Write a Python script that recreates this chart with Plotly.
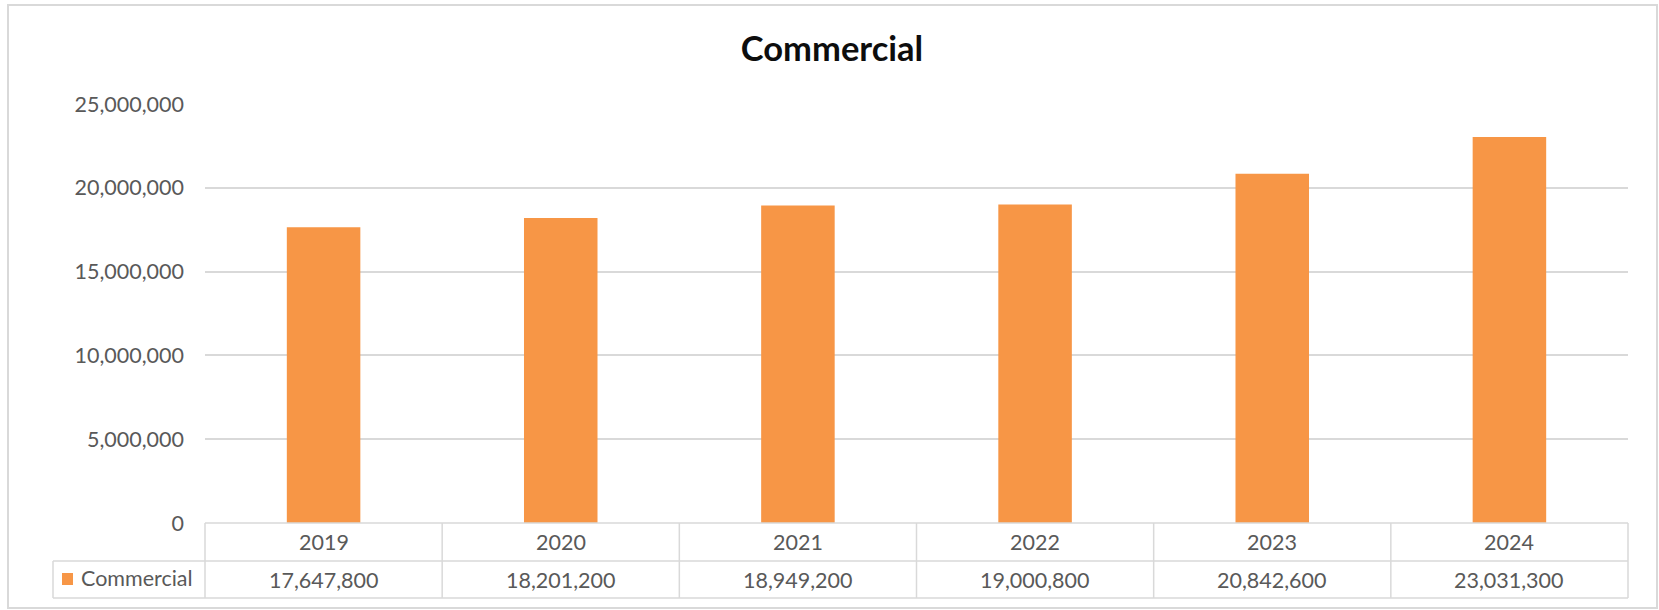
import plotly.graph_objects as go

years = ["2019", "2020", "2021", "2022", "2023", "2024"]
commercial = [17647800, 18201200, 18949200, 19000800, 20842600, 23031300]
series_name = "Commercial"
title_text = "Commercial"
y_ticks = [0, 5000000, 10000000, 15000000, 20000000, 25000000]

W, H = 1659, 610
L, R, T, B = 205, 1659 - 1628, 104, 610 - 523
PW, PH = W - L - R, H - T - B

def px_x(p):
    return (p - L) / PW

def px_y(p):
    return (H - B - p) / PH

GRID = "#d9d9d9"
TXT = "#595959"
FONT = "Lato"
BAR = "#F79646"
FS = 21.5

fig = go.Figure()
fig.add_trace(go.Bar(x=years, y=commercial, name=series_name, marker=dict(color=BAR, line=dict(width=0)),
                     showlegend=False))

shapes = []
row1 = px_y(561)
row2 = px_y(598)
shapes.append(dict(type="line", xref="paper", yref="paper", x0=px_x(53), x1=1, y0=row1, y1=row1,
                   line=dict(color=GRID, width=1.5)))
shapes.append(dict(type="line", xref="paper", yref="paper", x0=px_x(53), x1=1, y0=row2, y1=row2,
                   line=dict(color=GRID, width=1.5)))
shapes.append(dict(type="line", xref="paper", yref="paper", x0=0, x1=1, y0=0, y1=0,
                   line=dict(color=GRID, width=1.5)))
shapes.append(dict(type="line", xref="paper", yref="paper", x0=px_x(53), x1=px_x(53), y0=row1, y1=row2,
                   line=dict(color=GRID, width=1.5)))
for i in range(len(years) + 1):
    xv = i / len(years)
    shapes.append(dict(type="line", xref="paper", yref="paper", x0=xv, x1=xv, y0=0, y1=row2,
                       line=dict(color=GRID, width=1.5)))
shapes.append(dict(type="rect", xref="paper", yref="paper", x0=px_x(62), x1=px_x(73), y0=px_y(585), y1=px_y(573),
                   fillcolor=BAR, line=dict(width=0)))
shapes.append(dict(type="rect", xref="paper", yref="paper", x0=px_x(8), x1=px_x(1657), y0=px_y(608), y1=px_y(5),
                   line=dict(color=GRID, width=2), fillcolor="rgba(0,0,0,0)", layer="below"))

annotations = []
for i, (yr, v) in enumerate(zip(years, commercial)):
    annotations.append(dict(x=i, y=px_y(542), xref="x", yref="paper", text=yr, showarrow=False,
                            xanchor="center", yanchor="middle", font=dict(family=FONT, size=FS, color=TXT)))
    annotations.append(dict(x=i, y=px_y(579.5), xref="x", yref="paper", text=f"{v:,}", showarrow=False,
                            xanchor="center", yanchor="middle", font=dict(family=FONT, size=FS, color=TXT)))
annotations.append(dict(x=px_x(79), y=px_y(578), xref="paper", yref="paper", text=series_name, showarrow=False,
                        xanchor="left", yanchor="middle", font=dict(family=FONT, size=FS, color=TXT)))

fig.update_layout(
    width=W, height=H,
    margin=dict(l=L, r=R, t=T, b=B, pad=0),
    paper_bgcolor="white", plot_bgcolor="white",
    title=dict(text=f"<b>{title_text}</b>", x=832 / W, xanchor="center", xref="container",
               y=1 - 49 / H, yanchor="middle", font=dict(family=FONT, size=34.5, color="#0d0d0d")),
    bargap=0.69,
    hovermode=False,
    xaxis=dict(type="category", categoryorder="array", categoryarray=years, range=[-0.5, len(years) - 0.5],
               showticklabels=False, showgrid=False, zeroline=False, showline=False, ticks=""),
    yaxis=dict(range=[0, 25000000], tickvals=y_ticks, tickformat=",d", showgrid=True, gridcolor=GRID,
               gridwidth=1.5, zeroline=False, showline=False, ticks="", ticklabelstandoff=20,
               tickfont=dict(family=FONT, size=FS, color=TXT)),
    shapes=shapes, annotations=annotations,
)

fig.write_html("out.html", config={"displayModeBar": False},
               post_script="document.body.style.margin='0';document.body.style.overflow='hidden';")
